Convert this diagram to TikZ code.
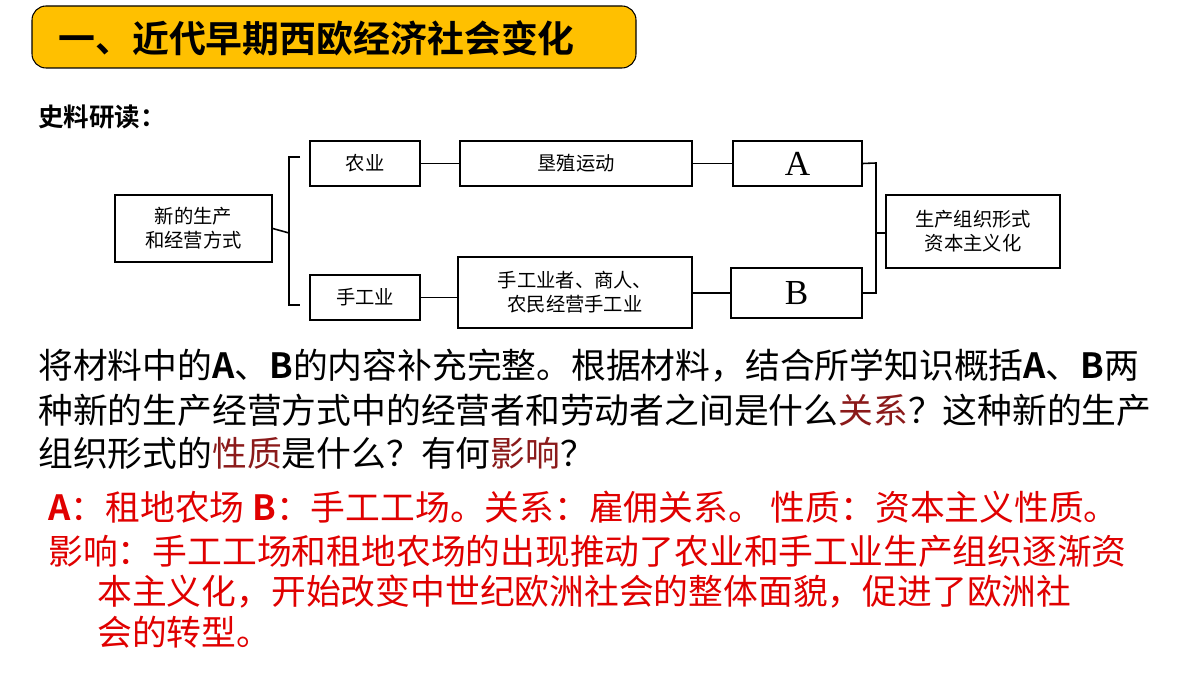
\documentclass[tikz,border=0pt]{standalone}
\usepackage{fontspec}
\setmainfont{Liberation Serif}
\newfontfamily\cjk{Noto Sans CJK SC}
\newfontfamily\cjkb{Noto Sans CJK SC Bold}
\begin{document}
\begin{tikzpicture}[x=0.02cm,y=-0.02cm,
  bx/.style={draw,line width=0.9pt,inner sep=0pt,align=center,font=\cjk\fontsize{11}{13.5}\selectfont},
  ln/.style={line width=0.9pt},
  para/.style={anchor=west,inner sep=0pt,font=\cjk\fontsize{19.8}{24}\selectfont},
  ans/.style={anchor=west,inner sep=0pt,text=ansred,font=\cjk\fontsize{19.8}{24}\selectfont}]
\definecolor{ansred}{HTML}{E00000}
\definecolor{keyred}{HTML}{8B1A1A}
\definecolor{titley}{HTML}{FFC000}
\useasboundingbox (0,0) rectangle (1200,675);
\fill[white] (0,0) rectangle (1200,675);
% title
\draw[fill=titley,rounded corners=8pt,line width=0.6pt] (32,6) rectangle (636,68);
\node[anchor=west,inner sep=0pt,font=\cjkb\fontsize{21}{24}\selectfont] (title) at (58,38) {一、近代早期西欧经济社会变化};
\node[anchor=west,inner sep=0pt,font=\cjkb\fontsize{14.5}{17}\selectfont] (sl) at (38,117) {史料研读：};
% diagram
\node[bx,minimum width=3.14cm,minimum height=1.34cm] (left) at (193.5,228.5) {新的生产\\和经营方式};
\node[bx,minimum width=2.2cm,minimum height=0.9cm] (ny) at (365,163.5) {农业};
\node[bx,minimum width=4.64cm,minimum height=0.9cm] (kz) at (576,163.5) {垦殖运动};
\node[bx,minimum width=2.58cm,minimum height=0.9cm,font=\fontsize{20}{22}\selectfont] (A) at (797.5,163.5) {A};
\node[bx,minimum width=2.2cm,minimum height=0.9cm] (sgy) at (365,297.5) {手工业};
\node[bx,minimum width=4.68cm,minimum height=1.42cm] (sgz) at (575,292.5) {手工业者、商人、\\农民经营手工业};
\node[bx,minimum width=2.62cm,minimum height=1.0cm,font=\fontsize{20}{22}\selectfont] (B) at (796.5,293) {B};
\node[bx,minimum width=3.48cm,minimum height=1.46cm] (right) at (973,231.5) {生产组织形式\\资本主义化};
\coordinate (lbt) at (289,157); \coordinate (lbb) at (289,305); \coordinate (lbm) at (289,233);
\coordinate (rbt) at (876,163); \coordinate (rbb) at (876,293); \coordinate (rbm) at (876,233);
\draw[ln] (300,157) -- (lbt) -- (lbb) -- (300,305);
\draw[ln] (left.east) -- (lbm);
\draw[ln] (ny) -- (kz); \draw[ln] (kz) -- (A);
\draw[ln] (sgy.east) -- (sgz.west |- sgy.east); \draw[ln] (sgz.east |- B.west) -- (B.west);
\draw[ln] (A.east) -- (rbt) -- (rbb) -- (B.east);
\draw[ln] (rbm) -- (right.west |- rbm);
% question
\node[para] (q1) at (38,366) {将材料中的{\cjkb A}、{\cjkb B}的内容补充完整。根据材料，结合所学知识概括{\cjkb A}、{\cjkb B}两};
\node[para] (q2) at (38,410) {种新的生产经营方式中的经营者和劳动者之间是什么\textcolor{keyred}{关系}？这种新的生产};
\node[para] (q3) at (38,453) {组织形式的\textcolor{keyred}{性质}是什么？有何\textcolor{keyred}{影响}？};
% answer
\node[ans] (a1) at (48,507) {{\cjkb A}：租地农场 {\cjkb B}：手工工场。关系：雇佣关系。 性质：资本主义性质。};
\node[ans] (a2) at (48,551) {影响：手工工场和租地农场的出现推动了农业和手工业生产组织逐渐资};
\node[ans] (a3) at (97,592) {本主义化，开始改变中世纪欧洲社会的整体面貌，促进了欧洲社};
\node[ans] (a4) at (97,632) {会的转型。};
\end{tikzpicture}
\end{document}
